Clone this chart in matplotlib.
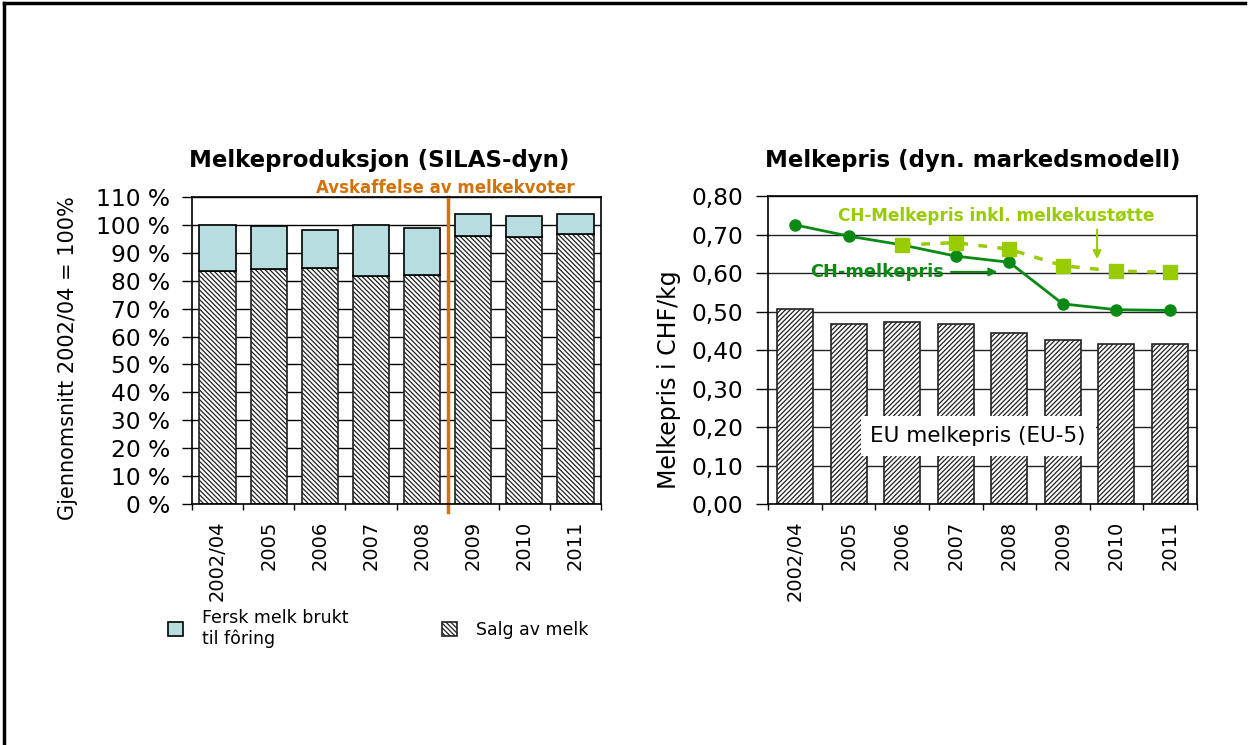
import numpy as np
import matplotlib.pyplot as plt
from matplotlib.lines import Line2D

years = ['2002/04', '2005', '2006', '2007', '2008', '2009', '2010', '2011']

# Melkeproduksjon, % av snitt 2002/04
salg = [83.6, 84.1, 84.5, 81.8, 82.2, 96.1, 95.6, 96.7]
fersk = [16.4, 15.4, 13.7, 18.2, 16.7, 7.7, 7.7, 7.1]

# Melkepris CHF/kg
eu_pris = [0.506, 0.468, 0.472, 0.468, 0.445, 0.427, 0.417, 0.417]
ch_pris = [0.725, 0.696, 0.673, 0.644, 0.628, 0.520, 0.505, 0.503]
ch_inkl_years = ['2006', '2007', '2008', '2009', '2010', '2011']
ch_inkl = [0.673, 0.679, 0.662, 0.619, 0.605, 0.602]

plt.rcParams['font.family'] = 'DejaVu Sans'
plt.rcParams['hatch.linewidth'] = 0.9

fig = plt.figure(figsize=(12.54, 7.45), dpi=100)
ax1 = fig.add_axes([0.1531, 0.3235, 0.3262, 0.4121])
ax2 = fig.add_axes([0.6127, 0.3231, 0.3416, 0.4138])

x = np.arange(len(years))

# ---- venstre: melkeproduksjon
ax1.set_axisbelow(True)
b_salg = ax1.bar(x, salg, 0.71, color='white', edgecolor='#222222', hatch='\\' * 7,
                 linewidth=1.2, label='Salg av melk')
b_fersk = ax1.bar(x, fersk, 0.71, bottom=salg, color='#b8dde1', edgecolor='black',
                  linewidth=1.2, label='Fersk melk brukt\ntil fôring')
ax1.set_xlim(-0.5, len(years) - 0.5)
ax1.set_ylim(0, 110)
ax1.set_yticks(np.arange(0, 111, 10))
ax1.set_yticklabels([f'{v} %' for v in range(0, 111, 10)])
ax1.yaxis.grid(True, color='black', linewidth=1)
ax1.axvline(4.5, ymin=-0.025, ymax=1, color='#d2720a', linewidth=2.5, clip_on=False)
ax1.text(4.45, 113.3, 'Avskaffelse av melkekvoter', color='#d2720a', fontsize=12,
         fontweight='bold', ha='center', va='center')
ax1.set_ylabel('Gjennomsnitt 2002/04 = 100%', fontsize=15)
ax1.yaxis.set_label_coords(-0.279, 0.476)

# ---- høyre: melkepris
ax2.set_axisbelow(True)
ax2.bar(x, eu_pris, 0.67, color='white', edgecolor='#222222', hatch='/' * 7, linewidth=1.2)
ax2.plot(x, ch_pris, color='#0a8a14', linewidth=2, marker='o', markersize=8)
ax2.plot([years.index(y) for y in ch_inkl_years], ch_inkl, color='#99cc00', linewidth=2.5,
         linestyle=(0, (2.5, 3)), marker='s', markersize=10)
ax2.set_xlim(-0.5, len(years) - 0.5)
ax2.set_ylim(0, 0.8)
ax2.set_yticks(np.arange(0, 0.81, 0.1))
ax2.set_yticklabels([f'{v:.2f}'.replace('.', ',') for v in np.arange(0, 0.81, 0.1)])
ax2.yaxis.grid(True, color='#222222', linewidth=1)
ax2.set_ylabel('Melkepris i CHF/kg', fontsize=17)
ax2.yaxis.set_label_coords(-0.205, 0.403)

ax2.text(3.75, 0.749, 'CH-Melkepris inkl. melkekustøtte', color='#99cc00', fontsize=12.2,
         fontweight='bold', ha='center', va='center')
ax2.annotate('', xy=(5.64, 0.629), xytext=(5.64, 0.72),
             arrowprops=dict(arrowstyle='-|>', color='#99cc00', lw=1.5, mutation_scale=12))
ax2.text(1.53, 0.603, 'CH-melkepris', color='#0a8a14', fontsize=12.8,
         fontweight='bold', ha='center', va='center')
ax2.annotate('', xy=(3.83, 0.603), xytext=(2.86, 0.603),
             arrowprops=dict(arrowstyle='-|>', color='#0a8a14', lw=1.5, mutation_scale=12))
ax2.text(3.42, 0.177, 'EU melkepris (EU-5)', fontsize=15.5, ha='center', va='center',
         bbox=dict(facecolor='white', edgecolor='none', pad=7))

for ax, tl in ((ax1, 7), (ax2, 9)):
    ax.set_xticks(x)
    ax.set_xticklabels(years, rotation=90, fontsize=14)
    ax.set_xticks(np.arange(-0.5, len(years)), minor=True)
    ax.tick_params(axis='x', which='major', length=0, pad=12)
    ax.tick_params(axis='x', which='minor', length=4.5, width=1)
    ax.tick_params(axis='y', length=tl, width=1, pad=9, labelsize=16.8)
    for s in ax.spines.values():
        s.set_linewidth(1.2)

fig.text(0.3022, 0.785, 'Melkeproduksjon (SILAS-dyn)', fontsize=16.5, fontweight='bold',
         ha='center', va='center')
fig.text(0.776, 0.785, 'Melkepris (dyn. markedsmodell)', fontsize=16.5, fontweight='bold',
         ha='center', va='center')

fig.legend(handles=[b_fersk, b_salg], loc='upper left', bbox_to_anchor=(0.134, 0.183),
           ncol=2, frameon=False, fontsize=12.5, handlelength=0.85, handleheight=0.85,
           handletextpad=1.1, columnspacing=5.4, borderpad=0, borderaxespad=0)

# ramme rundt
fig.add_artist(Line2D([0.0032, 0.9928], [0.996, 0.996], color='black', lw=2.5,
                      transform=fig.transFigure))
fig.add_artist(Line2D([0.0032, 0.0032], [0, 0.996], color='black', lw=2.5,
                      transform=fig.transFigure))

fig.savefig('out.png', dpi=100)
